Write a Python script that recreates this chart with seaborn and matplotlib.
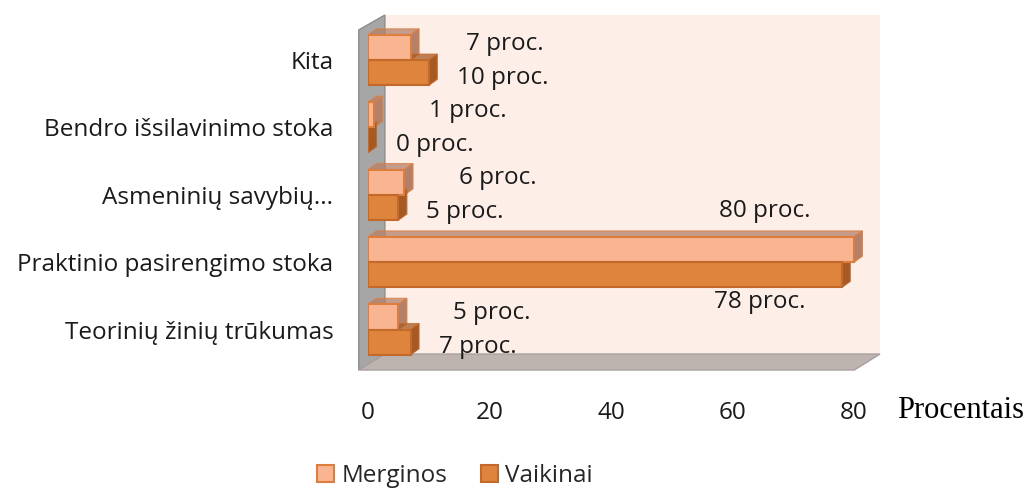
import matplotlib
matplotlib.use("Agg")
import matplotlib.pyplot as plt
import seaborn as sns
import pandas as pd
from matplotlib.patches import Polygon

# data (top to bottom as in the chart)
categories = ["Kita", "Bendro išsilavinimo stoka", "Asmeninių savybių...",
              "Praktinio pasirengimo stoka", "Teorinių žinių trūkumas"]
merginos = [7, 1, 6, 80, 5]
vaikinai = [10, 0, 5, 78, 7]
series = ["Merginos", "Vaikinai"]
x_ticks = [0, 20, 40, 60, 80]

df = pd.DataFrame({
    "Kategorija": categories * 2,
    "Procentai": merginos + vaikinai,
    "Lytis": [series[0]] * len(categories) + [series[1]] * len(categories),
})

sns.set_style("white")
plt.rcParams["font.family"] = ["Open Sans", "DejaVu Sans"]
FS = 17.5

fill = {"Merginos": "#F9B592", "Vaikinai": "#DE843C"}
edge = {"Merginos": "#DE7E3E", "Vaikinai": "#C4692C"}
side = {"Merginos": "#B4806A", "Vaikinai": "#A65A22"}

fig = plt.figure(figsize=(10.30, 4.91), dpi=100)
ax = fig.add_axes([368 / 1030, (491 - 370) / 491, 512 / 1030, 355 / 491])

sns.barplot(data=df, y="Kategorija", x="Procentai", hue="Lytis",
            order=categories, hue_order=series, palette=fill, saturation=1,
            orient="h", width=0.75, ax=ax, legend=False, zorder=3)

ax.set_xlim(0, 84.3)
ax.set_ylim(4.6, -0.67)
ax.set_facecolor("none")

# back wall, left wall and floor (pseudo 3D look)
ax.add_patch(Polygon([(0.033, 0.045), (1.0, 0.045), (1.0, 1.0), (0.033, 1.0)],
                     closed=True, transform=ax.transAxes, facecolor="#FDEEE8",
                     edgecolor="none", zorder=0))
ax.add_patch(Polygon([(-0.018, 0.0), (0.033, 0.045), (0.033, 1.0), (-0.018, 0.958)],
                     closed=True, transform=ax.transAxes, facecolor="#A6A6A6",
                     edgecolor="#8C8C8C", lw=1, zorder=1, clip_on=False))
ax.add_patch(Polygon([(-0.018, 0.0), (0.033, 0.045), (1.0, 0.045), (0.95, 0.0)],
                     closed=True, transform=ax.transAxes, facecolor="#BDB3AF",
                     edgecolor="#A8A0A0", lw=1, zorder=1, clip_on=False))

# give bars edges + side faces
dx, dy = 1.4, 0.09
for bars, name in zip(ax.containers, series):
    for p in bars:
        p.set_edgecolor(edge[name])
        p.set_linewidth(1.5)
        x0, y0 = p.get_x(), p.get_y()
        w, h = p.get_width(), p.get_height()
        x1, y1 = x0 + w, y0 + h
        ax.add_patch(Polygon([(x0, y0), (x0 + dx, y0 - dy), (x1 + dx, y0 - dy), (x1, y0)],
                             closed=True, facecolor=side[name], edgecolor=edge[name],
                             lw=0.8, alpha=0.75, zorder=2.9))
        ax.add_patch(Polygon([(x1, y0), (x1 + dx, y0 - dy), (x1 + dx, y1 - dy), (x1, y1)],
                             closed=True, facecolor=side[name], edgecolor=edge[name],
                             lw=0.8, zorder=2.9))

# value labels
for bars, vals, name in zip(ax.containers, [merginos, vaikinai], series):
    for p, v in zip(bars, vals):
        yc = p.get_y() + p.get_height() / 2
        if v > 50:
            off = (-43, 39) if name == "Merginos" else (-36, -27)
            ax.annotate(f"{v} proc.", (v, yc), xytext=off, textcoords="offset pixels",
                        ha="right", va="center", fontsize=FS, color="#1a1a1a", zorder=5)
        else:
            off = (55, 4) if name == "Merginos" else (28, -5)
            ax.annotate(f"{v} proc.", (v, yc), xytext=off, textcoords="offset pixels",
                        ha="left", va="center", fontsize=FS, color="#1a1a1a", zorder=5)

ax.set_xticks(x_ticks)
ax.set_xticklabels([str(t) for t in x_ticks])
ax.tick_params(axis="x", length=0, pad=22, labelsize=FS, colors="#1a1a1a")
ax.tick_params(axis="y", length=0, pad=25, labelsize=FS, colors="#1a1a1a")
ax.set_xlabel("")
ax.set_ylabel("")
sns.despine(ax=ax, left=True, bottom=True)

fig.text(897 / 1030, 1 - 410 / 491, "Procentais", family="Liberation Serif",
         fontsize=22, va="center", ha="left", color="black")

handles = [plt.Rectangle((0, 0), 1, 1, facecolor=fill[s], edgecolor=edge[s], lw=1.5)
           for s in series]
fig.legend(handles, series, loc="center", bbox_to_anchor=(455 / 1030, 1 - 476 / 491),
           ncol=2, frameon=False, fontsize=FS, handlelength=0.7, handleheight=0.7,
           handletextpad=0.3, columnspacing=1.4)

fig.savefig("out.png", dpi=100)
